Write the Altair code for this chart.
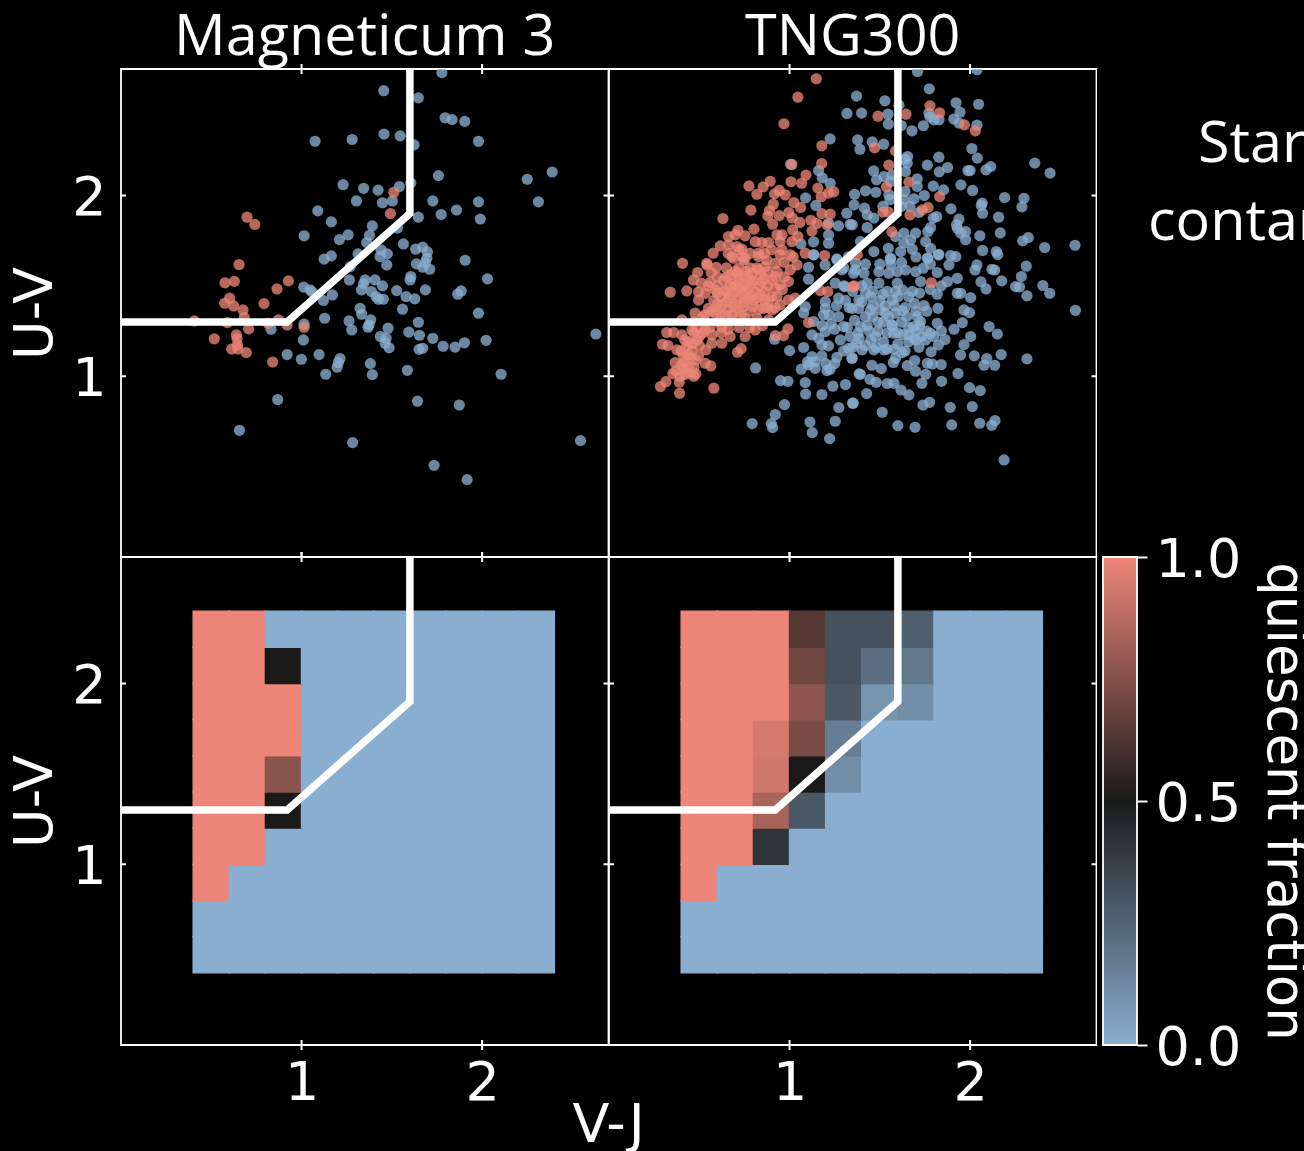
import altair as alt
import pandas as pd

# ---- Magneticum 3 scatter (V-J, U-V) ----
mag_blue = [(1.777,2.68),(1.455,2.58),(1.647,2.54),(1.795,2.43),(1.834,2.42),(1.904,2.41),(1.457,2.34),(1.546,2.33),(1.623,2.28),(1.98,2.30),(1.075,2.30),(1.28,2.31),
(2.388,2.13),(2.25,2.09),(1.758,2.11),(1.605,2.07),(1.542,2.05),(1.23,2.06),(1.344,2.04),(1.424,2.03),(1.304,1.97),(1.448,1.96),(1.503,1.97),(1.727,1.97),(1.98,1.965),(2.312,1.965),
(1.858,1.92),(1.773,1.895),(1.647,1.88),(1.99,1.87),(1.09,1.915),(1.165,1.854),(1.392,1.832),(1.531,1.82),(1.014,1.777),(1.376,1.78),(1.258,1.782),(1.21,1.756),(1.361,1.74),(1.564,1.732),
(1.632,1.703),(1.671,1.714),(1.697,1.688),(1.44,1.70),(1.313,1.677),(1.475,1.677),(1.435,1.662),(1.165,1.666),(1.125,1.648),(1.694,1.653),(1.636,1.622),(1.686,1.629),(1.671,1.603),(1.71,1.592),
(1.472,1.616),(1.906,1.642),(1.27,1.607),(1.265,1.533),(1.352,1.533),(1.407,1.533),(1.605,1.552),(1.601,1.533),(2.03,1.539),(1.448,1.50),(1.343,1.511),(1.332,1.478),(1.387,1.469),(1.012,1.493),
(1.047,1.478),(1.058,1.467),(1.171,1.45),(1.527,1.474),(1.686,1.478),(1.884,1.472),(1.865,1.454),(1.579,1.441),(1.627,1.428),(1.413,1.441),(1.426,1.426),(1.453,1.426),(1.121,1.419),(1.324,1.376),
(1.559,1.371),(1.98,1.349),(1.333,1.343),(1.383,1.312),(1.263,1.306),(1.128,1.321),(1.014,1.288),(0.831,1.26),(1.647,1.299),(1.374,1.284),(1.368,1.271),(1.278,1.256),(1.479,1.266),(1.594,1.244),
(1.653,1.227),(1.437,1.22),(1.468,1.21),(1.727,1.21),(1.01,1.201),(2.022,1.199),(1.902,1.185),(1.85,1.161),(1.784,1.166),(1.671,1.155),(1.651,1.149),(1.463,1.183),(1.485,1.157),(0.92,1.12),
(1.097,1.12),(0.999,1.094),(1.213,1.098),(1.204,1.076),(1.197,1.05),(1.381,1.07),(1.586,1.033),(1.134,1.011),(1.392,1.009),(2.105,1.011),(0.868,0.871),(1.642,0.862),(1.874,0.841),(0.656,0.701),
(1.283,0.633),(2.545,0.644),(1.734,0.507),(1.917,0.428),(2.63,1.234)]
mag_red = [(1.511,2.018),(1.492,1.90),(0.698,1.88),(0.741,1.84),(0.654,1.618),(0.628,1.525),(0.576,1.517),(0.927,1.528),(0.864,1.483),(0.602,1.432),(0.574,1.404),(0.624,1.389),(0.792,1.402),(0.676,1.367),
(0.683,1.325),(0.406,1.306),(0.589,1.297),(0.707,1.262),(0.872,1.312),(0.814,1.293),(0.92,1.284),(1.014,1.271),(0.639,1.229),(0.643,1.207),(0.517,1.207),(0.645,1.173),(0.613,1.151),(0.648,1.151),(0.694,1.131),(0.84,1.079)]

# ---- TNG300 scatter (V-J, U-V) ----
tng_blue = [(1.225,2.313),(1.318,2.454),(1.006,2.173),(1.161,2.138),(1.181,2.098),(1.225,2.068),(1.089,1.987),(1.146,1.945),(1.317,1.902),(1.336,1.841),(1.271,1.832),(1.216,1.847),(1.216,1.782),(1.216,1.736),(1.133,1.744),(1.063,1.732),(1.133,1.672),(1.262,1.649),
(1.709,2.686),(2.038,2.696),(1.774,2.59),(1.371,2.55),(1.528,2.524),(1.606,2.5),(1.922,2.513),(2.047,2.505),(1.399,2.456),(1.545,2.45),(1.944,2.461),(1.772,2.456),(1.778,2.434),(1.8,2.419),(1.828,2.419),(1.91,2.423),(1.938,2.401),(2.038,2.389),(1.547,2.395),(1.619,2.387),(1.741,2.386),(1.678,2.358),
(1.377,2.308),(1.458,2.297),(1.521,2.284),(1.39,2.256),(2.01,2.26),(2.04,2.207),(1.827,2.212),(1.654,2.216),(1.639,2.201),(1.652,2.179),(1.763,2.168),(1.875,2.155),(1.829,2.131),(2.114,2.16),(2.088,2.142),(1.988,2.138),(2.0,2.138),(2.358,2.179),(2.443,2.124),(1.466,2.136),(1.523,2.105),(1.482,2.087),(1.569,2.114),(1.56,2.077),(1.642,2.133),(1.707,2.092),(1.707,2.05),(1.796,2.052),(1.853,2.031),(1.949,2.059),(2.014,2.028),
(1.421,2.026),(1.478,2.018),(1.36,2.007),(1.55,2.004),(1.556,1.977),(1.639,2.022),(1.633,1.977),(1.689,1.982),(1.746,2.0),(1.357,1.948),(1.415,1.93),(1.517,1.94),(1.62,1.94),(1.667,1.94),(1.716,1.906),(2.191,1.989),(2.298,1.985),(2.287,1.937),(2.067,1.958),(2.062,1.945),(2.069,1.902),(1.894,1.926),(2.158,1.88),(1.815,1.884),(1.796,1.875),(1.467,1.875),(1.43,1.893),(1.347,1.838),(1.43,1.823),(1.781,1.823),(1.938,1.869),(1.925,1.838),(1.929,1.819),(1.975,1.801),(1.948,1.792),(1.975,1.755),(1.766,1.801),(1.633,1.792),(1.698,1.792),(1.754,1.745),(1.67,1.755),(1.633,1.736),(1.587,1.773),(1.781,1.708),(2.054,1.777),(2.167,1.793),(2.322,1.767),(2.291,1.749),(2.413,1.712),(2.581,1.725),(2.069,1.696),(2.145,1.69),(2.153,1.673),(1.827,1.675),(1.892,1.668),(1.921,1.662),(1.68,1.703),(1.615,1.69),(1.547,1.708),(1.467,1.69),(1.393,1.745),(1.56,1.653),(1.763,1.653),
(1.558,1.647),(2.038,1.616),(2.027,1.588),(1.824,1.671),(1.766,1.653),(2.311,1.609),(2.284,1.552),(2.121,1.592),(2.136,1.588),(2.175,1.528),(2.06,1.522),(2.088,1.483),(2.252,1.496),(2.274,1.494),(2.403,1.502),(2.441,1.459),(2.315,1.445),(2.583,1.365),(1.929,1.542),(1.874,1.524),(1.818,1.574),(1.883,1.616),(1.741,1.598),(1.699,1.579),(1.643,1.588),(1.597,1.579),(1.55,1.57),(1.495,1.579),(1.412,1.57),(1.726,1.524),(1.68,1.47),(1.597,1.515),(1.625,1.478),(1.588,1.47),(1.495,1.515),(1.43,1.515),(1.366,1.625),(1.818,1.454),(1.929,1.459),(1.948,1.459),(2.003,1.435),(1.517,1.454),(1.421,1.459),(1.384,1.422),(1.569,1.422),(1.691,1.404),(1.745,1.391),(1.822,1.376),(1.966,1.367),(1.997,1.352),(1.504,1.367),(1.624,1.362),(1.587,1.349),(1.384,1.376),(1.347,1.376),(1.449,1.367),(1.707,1.33),(1.725,1.303),(1.818,1.293),(1.957,1.297),(1.911,1.26),(2.105,1.275),(2.151,1.234),(2.003,1.22),(1.966,1.175),(1.861,1.203),(1.824,1.173),(1.841,1.251),(1.781,1.238),(1.717,1.16),(1.784,1.135),(1.947,1.118),(2.023,1.113),(2.092,1.098),(2.172,1.12),(2.136,1.061),(2.077,1.061),(2.315,1.096),(1.84,1.065),(1.791,1.068),(1.763,1.072),(1.693,1.087),(1.652,1.059),(1.575,1.076),(1.587,1.1),(1.624,1.131),(1.523,1.146),(1.467,1.146),(1.402,1.146),(1.476,1.22),(1.577,1.238),(1.567,1.284),(1.688,1.275),(1.688,1.21),(1.754,1.201),(1.393,1.275),(1.385,1.21),(1.347,1.1),(1.456,1.061),(1.508,1.042),(1.698,1.028),(1.754,1.011),(1.933,1.015),(1.842,0.972),(1.733,0.961),(1.392,1.011),(1.445,0.983),(1.48,0.967),(1.541,0.96),(1.578,0.961),(1.617,0.924),(1.661,0.897),(1.427,0.904),(1.353,0.851),(1.997,0.937),(2.056,0.921),(1.776,0.856),(1.739,0.841),(1.89,0.828),(2.012,0.832),(1.513,0.801),(1.6,0.727),(1.695,0.718),(1.898,0.731),(2.053,0.74),(2.12,0.729),(2.138,0.755),(2.188,0.537),
(1.133,1.672),(1.105,1.603),(1.197,1.616),(1.262,1.644),(1.327,1.662),(1.105,1.537),(1.29,1.589),(1.355,1.57),(1.253,1.515),(1.308,1.496),(1.364,1.589),(1.272,1.432),(1.198,1.413),(1.198,1.376),(1.087,1.386),(1.078,1.35),(1.133,1.303),(1.188,1.339),(1.272,1.33),(1.231,1.29),(1.299,1.275),(1.198,1.247),(1.124,1.229),(1.161,1.21),(1.281,1.201),(1.336,1.22),(1.179,1.173),(1.078,1.159),(1.216,1.168),(1.327,1.155),(1.373,1.183),(1.124,1.109),(1.179,1.113),(1.262,1.105),(1.345,1.1),(1.065,1.039),(1.105,1.063),(1.142,1.044),(1.207,1.031),(1.225,1.039),(1.386,1.013),(0.917,1.205),(1.0,1.142),(0.812,1.046),(0.95,0.976),(0.991,0.972),(1.087,0.965),(1.089,0.902),(1.179,0.899),(1.24,0.945),(1.31,0.954),(0.972,0.843),(1.273,0.827),(1.349,0.851),(0.921,0.788),(0.793,0.738),(0.899,0.738),(0.906,0.716),(1.113,0.747),(1.253,0.751),(1.126,0.688),(1.222,0.655),
(1.45,1.44),(1.5,1.42),(1.53,1.39),(1.46,1.33),(1.52,1.3),(1.55,1.33),(1.43,1.28),(1.49,1.25),(1.54,1.24),(1.62,1.3),(1.65,1.33),(1.66,1.27),(1.63,1.23),(1.7,1.25),(1.45,1.2),(1.52,1.19),(1.6,1.18),(1.66,1.19),(1.73,1.22),(1.33,1.38),(1.31,1.42),(1.26,1.39),(1.22,1.34),(1.18,1.28),(1.25,1.26)]
tng_blue_dense = [(1.3,1.5),(1.35,1.47),(1.4,1.5),(1.46,1.47),(1.54,1.47),(1.6,1.44),(1.66,1.44),(1.72,1.46),(1.78,1.48),(1.84,1.5),(1.4,1.41),(1.46,1.39),(1.53,1.35),(1.58,1.39),(1.64,1.38),(1.7,1.36),(1.76,1.36),(1.42,1.33),(1.36,1.31),(1.32,1.27),(1.38,1.24),(1.44,1.25),(1.49,1.3),(1.57,1.28),(1.6,1.24),(1.66,1.23),(1.72,1.28),(1.76,1.25),(1.8,1.22),(1.42,1.17),(1.48,1.16),(1.54,1.15),(1.58,1.15),(1.64,1.14),(1.7,1.2),(1.35,1.16),(1.3,1.14),(1.25,1.07),(1.2,1.07),(1.14,1.08),(1.1,1.08),(1.3,1.6),(1.42,1.62),(1.5,1.62),(1.56,1.62),(1.62,1.63),(1.7,1.66),(1.78,1.62)]
tng_red = [(1.148,2.646),(1.046,2.544),(0.969,2.397),(1.179,2.275),(1.178,2.177),(1.013,2.172),(1.091,2.113),(1.008,2.076),(1.067,2.068),(0.893,2.079),(0.854,2.048),(0.775,2.053),(0.819,2.007),(1.157,2.041),(0.943,2.028),(0.917,2.009),(0.976,2.004),(1.175,1.993),(1.216,2.013),(1.245,2.02),(1.024,1.961),(1.061,1.934),(0.91,1.952),(0.786,1.919),(0.889,1.917),(0.88,1.887),(0.943,1.889),(0.996,1.906),(1.015,1.876),(0.631,1.873),(1.179,1.90),(1.225,1.897),(1.057,1.851),(0.906,1.841),(1.118,1.863),(1.151,1.845),(1.209,1.836),(1.124,1.803),(0.803,1.814),(0.714,1.808),(1.017,1.81),(0.662,1.773),(0.699,1.782),(0.754,1.777),(0.958,1.782),(0.93,1.782),(1.046,1.773),(0.616,1.721),(0.577,1.681),(0.662,1.727),(0.708,1.718),(0.736,1.703),(0.81,1.745),(0.847,1.74),(0.884,1.74),(0.948,1.745),(1.013,1.745),(1.087,1.681),(1.194,1.668),(1.004,1.672),(0.828,1.681),(0.958,1.699),(0.68,1.662),(0.754,1.653),(0.407,1.625),(0.542,1.625),
(0.339,1.465),(0.431,1.472),(0.491,1.574),(0.542,1.616),(0.566,1.574),(0.594,1.603),(0.468,1.533),(0.511,1.515),(0.561,1.52),(0.496,1.421),(0.496,1.467),(0.533,1.459),(0.588,1.478),(0.634,1.533),(0.671,1.561),(0.708,1.57),(0.754,1.552),(0.791,1.57),(0.828,1.589),(0.865,1.607),(0.69,1.515),(0.736,1.515),(0.791,1.515),(0.847,1.524),(0.902,1.533),(0.644,1.478),(0.699,1.469),(0.754,1.469),(0.81,1.469),(0.865,1.469),(0.921,1.487),(0.948,1.505),(0.93,1.441),(0.884,1.421),(0.828,1.432),(0.773,1.432),(0.717,1.432),(0.662,1.432),(0.625,1.395),(0.69,1.386),(0.745,1.386),(0.8,1.386),(0.856,1.376),(0.948,1.395),(0.902,1.367),(0.994,1.421),(1.031,1.432),(0.994,1.524),(1.004,1.589),(1.041,1.616),(0.948,1.672),(0.921,1.625),(0.874,1.644),(0.828,1.662),(0.745,1.644),(0.69,1.653),
(0.551,1.376),(0.588,1.349),(0.644,1.34),(0.533,1.34),(0.404,1.312),(0.477,1.349),(0.607,1.301),(0.68,1.312),(0.754,1.321),(0.819,1.321),(0.884,1.312),(0.32,1.242),(0.357,1.242),(0.404,1.229),(0.459,1.256),(0.533,1.256),(0.625,1.271),(0.671,1.22),(0.754,1.22),(0.81,1.256),(0.921,1.225),(0.967,1.225),(0.991,1.262),(0.296,1.177),(0.326,1.17),(0.376,1.146),(0.431,1.164),(0.487,1.201),(0.537,1.146),(0.57,1.183),(0.625,1.183),(0.732,1.153),(0.712,1.133),(0.413,1.109),(0.45,1.1),(0.367,1.076),(0.496,1.113),(0.533,1.072),(0.564,1.057),(0.413,1.044),(0.354,1.015),(0.394,0.998),(0.45,1.017),(0.481,1.013),(0.315,0.97),(0.285,0.943),(0.389,0.967),(0.391,0.906),(0.581,0.934),
(0.72,1.6),(0.78,1.6),(0.65,1.6),(0.6,1.55),(0.72,1.54),(0.78,1.54),(0.84,1.56),(0.67,1.5),(0.72,1.49),(0.77,1.49),(0.83,1.5),(0.88,1.5),(0.62,1.44),(0.68,1.45),(0.74,1.45),(0.79,1.45),(0.84,1.45),(0.58,1.42),(0.6,1.37),(0.66,1.37),(0.72,1.36),(0.47,1.3),(0.52,1.3),(0.56,1.27),(0.47,1.24),(0.5,1.22),(0.44,1.19),(0.46,1.14),(0.42,1.08),(0.44,1.05),
(1.105,1.297),(1.17,1.474),(1.212,1.469),(1.351,1.496),(1.778,2.496),(1.831,2.458),(1.645,2.45),(1.49,2.439),(1.968,2.391),(2.029,2.358),(1.471,2.264),(1.587,2.247),(1.55,2.168),(1.661,2.074),(1.537,2.048),(1.831,1.994),(1.767,1.934),(1.735,1.921),(1.517,1.908),(1.547,1.908),(1.667,1.893),(1.567,1.799),(1.375,1.672),(1.785,1.517),(1.357,1.5)]
tng_red_dense = [(0.55,1.5),(0.6,1.5),(0.65,1.55),(0.7,1.58),(0.76,1.58),(0.82,1.6),(0.88,1.58),(0.93,1.58),(0.97,1.55),(0.6,1.46),(0.65,1.47),(0.7,1.5),(0.75,1.5),(0.8,1.53),(0.86,1.54),(0.92,1.55),(0.96,1.48),(0.9,1.44),(0.86,1.42),(0.8,1.42),(0.75,1.41),(0.7,1.4),(0.65,1.41),(0.6,1.4),(0.57,1.36),(0.62,1.34),(0.68,1.34),(0.73,1.34),(0.78,1.36),(0.83,1.37),(0.88,1.38),(0.92,1.38),(0.52,1.33),(0.48,1.26),(0.52,1.24),(0.57,1.23),(0.62,1.24),(0.66,1.26),(0.72,1.27),(0.78,1.27),(0.85,1.28),(0.42,1.2),(0.46,1.18),(0.5,1.17),(0.4,1.14),(0.44,1.12),(0.48,1.09),(0.4,1.06),(0.47,1.05),(0.37,1.03),(0.42,1.01),(0.47,1.0),(0.74,1.66),(0.78,1.68),(0.86,1.68),(0.9,1.7),(0.97,1.63),(1.02,1.66),(0.66,1.68),(0.72,1.7)]

# ---- quiescent fraction grids: rows from U-V 0.4 upward, columns from V-J 0.4 rightward ----
bin_edges = [0.4,0.6,0.8,1.0,1.2,1.4,1.6,1.8,2.0,2.2,2.4]
mag_grid = [
 [0,0,0,0,0,0,0,0,0,0],
 [0,0,0,0,0,0,0,0,0,0],
 [1,0,0,0,0,0,0,0,0,0],
 [1,1,0,0,0,0,0,0,0,0],
 [1,1,0.5,0,0,0,0,0,0,0],
 [1,1,0.78,0,0,0,0,0,0,0],
 [1,1,1,0,0,0,0,0,0,0],
 [1,1,1,0,0,0,0,0,0,0],
 [1,1,0.5,0,0,0,0,0,0,0],
 [1,1,0,0,0,0,0,0,0,0]]
tng_grid = [
 [0,0,0,0,0,0,0,0,0,0],
 [0,0,0,0,0,0,0,0,0,0],
 [1,0,0,0,0,0,0,0,0,0],
 [1,1,0.4,0,0,0,0,0,0,0],
 [1,1,0.85,0.27,0,0,0,0,0,0],
 [1,1,0.94,0.5,0.1,0,0,0,0,0],
 [1,1,0.95,0.74,0.15,0,0,0,0,0],
 [1,1,1,0.79,0.27,0.08,0.1,0,0,0],
 [1,1,1,0.72,0.3,0.2,0.17,0,0,0],
 [1,1,1,0.66,0.3,0.3,0.25,0,0,0]]

# ---- UVJ selection wedge ----
wedge_vj = [0.0,0.92,1.6,1.6]
wedge_uv = [1.3,1.3,1.9,2.7]
tick_values = [1,2]
cbar_ticks = [0,0.5,1]

BLUE="#8aaed0"; RED="#ed8678"; DARK="#1a1a1a"
W=487.5; H=488; SIDE=40
TICK_FONT="DejaVu Sans"; TICK_SIZE=54; TITLE_FONT="Open Sans"; TITLE_SIZE=57.5
NO_FRAME=alt.ViewBackground(stroke="transparent")

xs = alt.Scale(domain=[0,2.7],nice=False,zero=False)
ys = alt.Scale(domain=[0,2.7],nice=False,zero=False)
cs = alt.Scale(domain=[0,0.5,1],range=[BLUE,DARK,RED])

def xaxis(show):
    if show:
        return alt.Axis(values=tick_values,format="d",grid=False,domain=False,ticks=False,labelFontSize=TICK_SIZE,labelFont=TICK_FONT,labelColor="white",labelPadding=11,title=None)
    return None
def yaxis(show):
    if show:
        return alt.Axis(values=tick_values,format="d",grid=False,domain=False,ticks=False,labelFontSize=TICK_SIZE,labelFont=TICK_FONT,labelColor="white",labelPadding=15,labelOffset=3,
                        title="U-V",titleFont=TICK_FONT,titleFontSize=54,titleColor="white",titleFontWeight="normal",titlePadding=9)
    return None

def decor(ax,ay):
    tx = alt.Chart(pd.DataFrame({"v":tick_values}))
    layers=[]
    rule=dict(color="white",strokeWidth=2)
    for a,b in [(-5,5),(H-5,H+5)]:
        layers.append(tx.mark_rule(**rule).encode(x=alt.X("v:Q",scale=xs,axis=ax),y=alt.value(a),y2=alt.value(b)))
    for a,b in [(0,5),(W-5,W+5)]:
        layers.append(tx.mark_rule(**rule).encode(y=alt.Y("v:Q",scale=ys,axis=ay),x=alt.value(a),x2=alt.value(b)))
    return layers

def wedge(ax,ay):
    df=pd.DataFrame({"vj":wedge_vj,"uv":wedge_uv,"o":range(len(wedge_vj))})
    return alt.Chart(df).mark_line(color="white",strokeWidth=7.5,clip=True,strokeJoin="miter",strokeCap="butt").encode(
        x=alt.X("vj:Q",scale=xs,axis=ax),y=alt.Y("uv:Q",scale=ys,axis=ay),order="o:O")

def note(text,px,py,font=TITLE_FONT,size=TITLE_SIZE,align="left"):
    return alt.Chart(pd.DataFrame({"t":[text]})).mark_text(font=font,fontSize=size,color="white",align=align,baseline="alphabetic").encode(
        text="t:N",x=alt.value(px),y=alt.value(py))

def scatter(blue,red,show_y,title):
    ax=xaxis(False); ay=yaxis(show_y)
    dfb=pd.DataFrame(blue,columns=["vj","uv"]); dfr=pd.DataFrame(red,columns=["vj","uv"])
    pt=dict(size=125,opacity=0.77,filled=True,clip=True,strokeWidth=0)
    lb=alt.Chart(dfb).mark_point(color=BLUE,**pt).encode(x=alt.X("vj:Q",scale=xs,axis=ax),y=alt.Y("uv:Q",scale=ys,axis=ay))
    lr=alt.Chart(dfr).mark_point(color=RED,**pt).encode(x=alt.X("vj:Q",scale=xs,axis=ax),y=alt.Y("uv:Q",scale=ys,axis=ay))
    layers=[lb,lr,wedge(ax,ay)]+decor(ax,ay)+[note(title,W/2,-14,align="center")]
    return alt.layer(*layers).properties(width=W,height=H)

def heat(grid,show_y,extra=None):
    ax=xaxis(True); ay=yaxis(show_y)
    rows=[]
    for r,row in enumerate(grid):
        for c,f in enumerate(row):
            rows.append(dict(x0=bin_edges[c],x1=bin_edges[c+1],y0=bin_edges[r],y1=bin_edges[r+1],f=f))
    df=pd.DataFrame(rows)
    lh=alt.Chart(df).mark_rect(strokeWidth=1.5).encode(
        x=alt.X("x0:Q",scale=xs,axis=ax),x2="x1:Q",
        y=alt.Y("y0:Q",scale=ys,axis=ay),y2="y1:Q",
        color=alt.Color("f:Q",scale=cs,legend=None),
        stroke=alt.Stroke("f:Q",scale=cs,legend=None))
    layers=[lh,wedge(ax,ay)]+decor(ax,ay)
    if extra: layers+=extra
    return alt.layer(*layers).properties(width=W,height=H)

cbar_df=pd.DataFrame({"a":[cbar_ticks[0]],"b":[cbar_ticks[-1]]})
cbar_axis=alt.Axis(orient="right",values=cbar_ticks,format=".1f",grid=False,domain=False,ticks=True,tickSize=10,tickColor="white",tickWidth=2,
                          labelFontSize=TICK_SIZE,labelFont=TICK_FONT,labelColor="white",labelPadding=8,labelOffset=3,title="quiescent fraction",titleFont=TICK_FONT,titleFontSize=53,
                          titleColor="white",titleFontWeight="normal",titleAngle=90,titlePadding=16)
cbar_enc=dict(y=alt.Y("a:Q",scale=alt.Scale(domain=[0,1],nice=False),axis=cbar_axis),y2="b:Q",x=alt.value(6),x2=alt.value(SIDE))
cbar_fill=alt.Chart(cbar_df).mark_rect(
    color=alt.Gradient(gradient="linear",x1=0,x2=0,y1=1,y2=0,stops=[alt.GradientStop(color=BLUE,offset=0),alt.GradientStop(color=DARK,offset=0.5),alt.GradientStop(color=RED,offset=1)])
).encode(**cbar_enc)
cbar_edge=alt.Chart(cbar_df).mark_rect(fill="transparent",stroke="white",strokeWidth=1.8).encode(**cbar_enc)
cbar=alt.layer(cbar_fill,cbar_edge).properties(width=SIDE,height=H,view=NO_FRAME)

top_left=scatter(mag_blue,mag_red,True,"Magneticum 3")
top_right=scatter(tng_blue+tng_blue_dense,tng_red+tng_red_dense,False,"TNG300")
side=alt.layer(note("Star",101,93),note("contar",51,171)).properties(width=SIDE,height=H,view=NO_FRAME)
bot_left=heat(mag_grid,True,extra=[note("V-J",W,H+97,font=TICK_FONT,size=54,align="center")])
bot_right=heat(tng_grid,False)

chart=alt.concat(top_left,top_right,side,bot_left,bot_right,cbar,columns=3,spacing=0,bounds="flush").resolve_scale(color="independent").properties(
    background="black",padding={"left":-1,"top":0,"right":0,"bottom":0}).configure_view(stroke="white",strokeWidth=1.8,fill="black")

chart.save("out.html",embed_options={"renderer":"svg","actions":False,"defaultStyle":"html{background:#000;overflow:hidden} body{background:#000;width:1500px} #vis{width:1500px !important;overflow:visible} #vis svg{flex:none;overflow:visible}"})
